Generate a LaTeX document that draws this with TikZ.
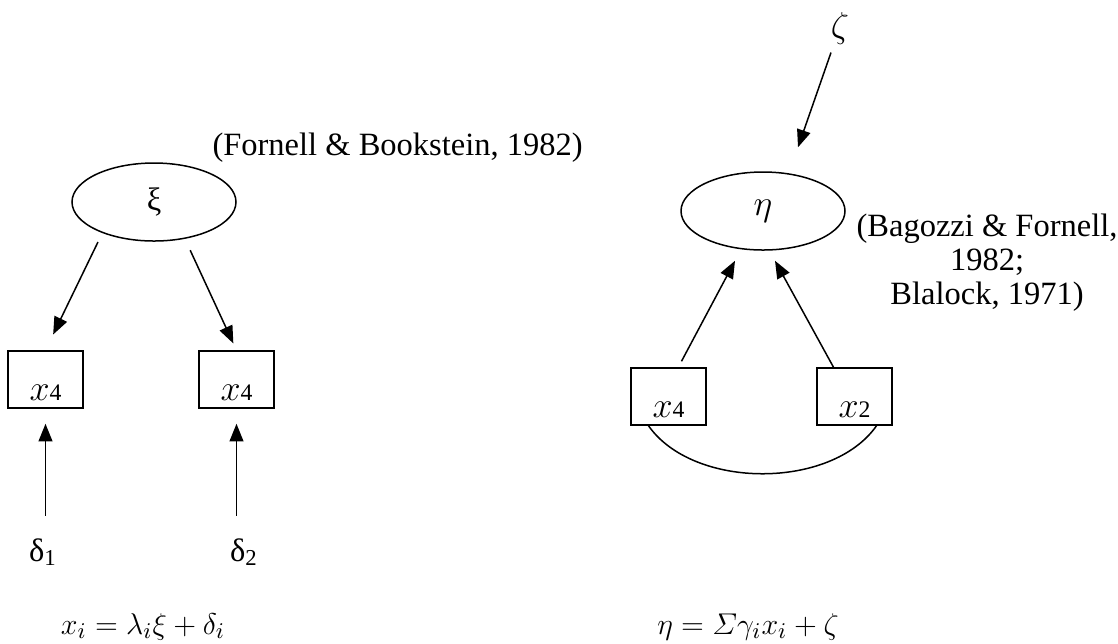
\documentclass[tikz,border=0pt]{standalone}
\usepackage{amsmath}
\usepackage{fontspec}
\setmainfont{Liberation Serif}
\usetikzlibrary{shapes.geometric, arrows.meta, positioning, calc}
\newcommand{\obsx}[1]{{\fontsize{15}{15}\selectfont$x$}{\fontsize{9.5}{10}\selectfont#1}}

\begin{document}
\begin{tikzpicture}[
    x=0.4pt, y=-0.4pt,
    every node/.style={font=\fontsize{13}{13.6}\selectfont},
    latent/.style={ellipse, draw, line width=0.6pt, minimum width=65.6pt, minimum height=31.2pt, inner sep=0pt},
    manifest/.style={rectangle, draw, line width=0.6pt, minimum width=30pt, inner xsep=0pt, inner ysep=2pt, text height=17.8pt, text depth=1pt},
    lbl/.style={inner sep=0pt},
    arrow/.style={-{Triangle[length=7pt, width=5.5pt]}, line width=0.6pt},
]
    \useasboundingbox (0,0) rectangle (1118,643);

    \node[latent] (xi) at (154,202) {ξ};
    \node[lbl, anchor=base west] (fb) at (212,155) {(Fornell \& Bookstein, 1982)};
    \node[manifest] (xa) at (45.5,379.5) {\obsx{4}};
    \node[manifest] (xb) at (236.5,379.5) {\obsx{4}};
    \node[lbl] (d1) at (43,552) {δ\textsubscript{1}};
    \node[lbl] (d2) at (244,552) {δ\textsubscript{2}};
    \node[lbl, anchor=base] (eqxi) at (143,634) {$x_i = \lambda_i\xi + \delta_i$};

    \draw[arrow, shorten <=4pt, shorten >=7pt] (xi.211) -- (xa.north);
    \draw[arrow, shorten <=5pt, shorten >=3pt] (xi.-50) -- (xb.north);
    \draw[arrow, shorten <=8.8pt, shorten >=6pt] (xa.south |- d1.north) -- (xa.south);
    \draw[arrow, shorten <=8.8pt, shorten >=6pt] (xb.south |- d2.north) -- (xb.south);

    \node[lbl, font=\fontsize{15}{15}\selectfont] (zeta) at (840,28) {$\zeta$};
    \node[latent, font=\fontsize{15}{15}\selectfont] (eta) at (763,211) {$\eta$};
    \node[lbl, align=center, anchor=north] (bf) at (987,213) {(Bagozzi \& Fornell,\\ 1982;\\ Blalock, 1971)};
    \node[manifest] (ya) at (668.5,396.5) {\obsx{4}};
    \node[manifest] (yb) at (854.5,396.5) {\obsx{2}};
    \node[lbl, anchor=base] (eqeta) at (748,634) {$\eta = \varSigma\gamma_i x_i + \zeta$};

    \draw[arrow] ($(zeta.south)+(-9,8)$) -- ($(eta.north)+(35,-24)$);
    \draw[arrow] ($(ya.north)+(13,-6)$) -- ($(eta.south)+(-28,10)$);
    \draw[arrow] ($(yb.north)+(-21,0)$) -- ($(eta.south)+(12,10)$);
    \draw[line width=0.6pt] ($(ya.south)+(-20,0)$) .. controls +(45,64) and +(-45,64) .. ($(yb.south)+(22,0)$);
\end{tikzpicture}
\end{document}
